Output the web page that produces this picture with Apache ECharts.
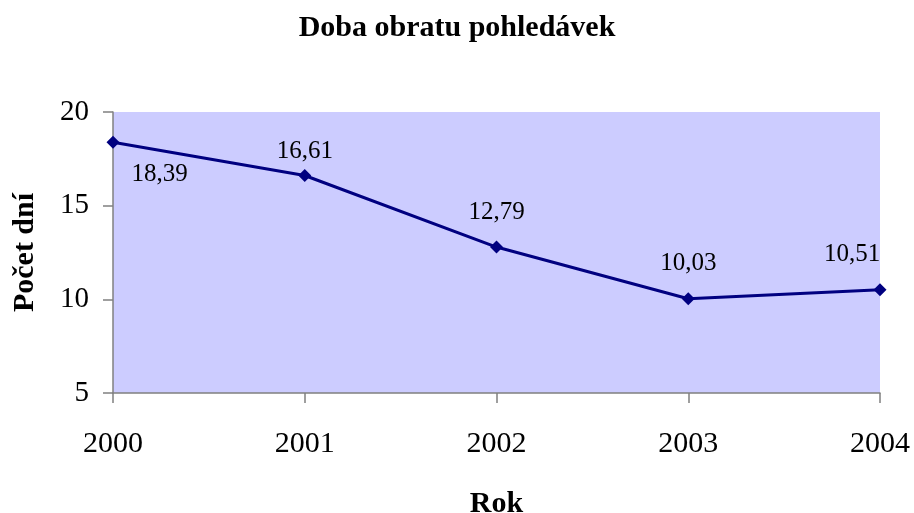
<!DOCTYPE html>
<html>
<head>
<meta charset="utf-8">
<script src="https://cdn.jsdelivr.net/npm/echarts@6/dist/echarts.min.js"></script>
<style>
  html, body { margin: 0; padding: 0; background: #fff; }
  #chart { width: 914px; height: 513px; }
</style>
</head>
<body>
<div id="chart"></div>
<script type="text/javascript">
    var years = ['2000', '2001', '2002', '2003', '2004'];
    var days = [18.39, 16.61, 12.79, 10.03, 10.51];
    var yTicks = [5, 10, 15, 20];

    var serif = '"Liberation Serif", "DejaVu Serif", serif';
    var myChart = echarts.init(document.getElementById('chart'));

    // label tweaks per point, like in the original sheet
    var labelTweaks = [
        { position: 'right', distance: 12, offset: [0, 32] },
        { offset: [0, 11] },
        {},
        {},
        { offset: [-28, 0] }
    ];
    var points = days.map(function (v, i) {
        return { value: v, label: labelTweaks[i] };
    });

    var option = {
        backgroundColor: '#ffffff',
        animation: false,
        title: {
            text: 'Doba obratu pohledávek',
            left: 'center',
            top: 8,
            textStyle: { fontFamily: serif, fontWeight: 'bold', fontSize: 30, color: '#000' }
        },
        grid: {
            left: 113,
            right: 34,
            top: 112,
            bottom: 120,
            outerBoundsMode: 'none',
            containLabel: false,
            show: true,
            backgroundColor: '#ccccff',
            borderWidth: 0
        },
        xAxis: {
            type: 'category',
            data: years,
            boundaryGap: false,
            name: 'Rok',
            nameLocation: 'middle',
            nameGap: 96,
            nameTextStyle: { fontFamily: serif, fontWeight: 'bold', fontSize: 30, color: '#000' },
            axisLine: { lineStyle: { color: '#808080', width: 1.5 } },
            axisTick: { show: true, length: 10, alignWithLabel: true, lineStyle: { color: '#808080', width: 1.5 } },
            axisLabel: { fontFamily: serif, fontSize: 30, color: '#000', margin: 36 },
            splitLine: { show: false }
        },
        yAxis: {
            type: 'value',
            min: yTicks[0],
            max: yTicks[yTicks.length - 1],
            interval: 5,
            name: 'Počet dní',
            nameLocation: 'middle',
            nameGap: 73,
            nameRotate: 90,
            nameTextStyle: { fontFamily: serif, fontWeight: 'bold', fontSize: 30, color: '#000' },
            axisLine: { show: true, lineStyle: { color: '#808080', width: 1.5 } },
            axisTick: { show: true, length: 10, lineStyle: { color: '#808080', width: 1.5 } },
            axisLabel: { fontFamily: serif, fontSize: 29, color: '#000', margin: 24 },
            splitLine: { show: false }
        },
        series: [
            {
                type: 'line',
                data: points,
                symbol: 'diamond',
                symbolSize: 13,
                lineStyle: { color: '#000080', width: 3 },
                itemStyle: { color: '#000080' },
                label: {
                    show: true,
                    position: 'top',
                    distance: 16,
                    fontFamily: serif,
                    fontSize: 25,
                    color: '#000',
                    formatter: function (p) {
                        return p.value.toFixed(2).replace('.', ',');
                    }
                }
            }
        ]
    };
    myChart.setOption(option);
</script>
</body>
</html>
